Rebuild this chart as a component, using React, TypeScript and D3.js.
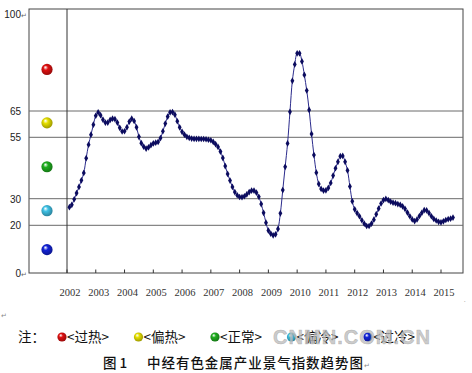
import React from 'react';
import * as d3 from 'd3';

// monthly index, first point Jan 2002
const startYear = 2002;
const yearTicks = d3.range(2002, 2016);
const yTickValues = [0, 20, 30, 55, 65, 100];
const gridValues = [20, 30, 55, 65];

const zoneNames = ['过热', '偏热', '正常', '偏冷', '过冷'];
const zoneColors = ['#e01010', '#e6e000', '#1fae1f', '#3fc2e6', '#1222d6'];
const zoneLevels = [80, 60.5, 43, 25.5, 9.8];

const indexValues = [
  26.8, 27.7, 29.8, 32.3, 34.8, 37.5, 40.5, 46.5, 52.0, 56.0, 59.8, 63.2, // 2002
  64.5, 63.4, 61.7, 60.6, 60.6, 61.6, 62.1, 61.9, 60.6, 58.6, 57.2, 57.3, // 2003
  58.8, 61.0, 62.1, 61.2, 58.8, 55.2, 52.6, 51.2, 50.4, 50.9, 51.8, 52.5, // 2004
  52.8, 53.1, 54.7, 57.3, 60.2, 62.9, 64.5, 64.6, 63.6, 61.1, 58.8, 57.1, // 2005
  56.0, 55.2, 54.8, 54.5, 54.4, 54.4, 54.4, 54.3, 54.3, 54.2, 54.0, 53.8, // 2006
  53.1, 52.2, 51.1, 49.2, 46.6, 43.3, 40.1, 37.4, 34.8, 32.7, 31.4, 30.7, // 2007
  30.6, 31.0, 31.8, 32.7, 33.3, 33.3, 32.5, 30.8, 28.0, 24.7, 21.0, 17.8, // 2008
  16.5, 15.8, 16.2, 18.5, 24.5, 33.5, 43.0, 52.5, 64.7, 75.9, 81.8, 85.8, // 2009
  85.8, 82.9, 78.0, 72.4, 65.4, 56.3, 47.8, 40.6, 36.0, 34.0, 33.3, 33.4, // 2010
  34.4, 36.4, 39.4, 42.4, 45.0, 47.3, 47.4, 45.0, 41.5, 35.0, 29.0, 26.0, // 2011
  24.6, 23.4, 21.9, 20.6, 19.7, 19.7, 20.6, 22.1, 24.2, 26.3, 28.2, 29.5, // 2012
  29.9, 29.5, 28.9, 28.5, 28.3, 28.0, 27.7, 27.1, 26.2, 24.8, 23.4, 22.2, // 2013
  21.6, 22.2, 23.5, 24.7, 25.7, 25.6, 24.6, 23.4, 22.4, 21.8, 21.3, 21.1, // 2014
  21.5, 22.0, 22.3, 22.5, 22.9, // 2015
];

const W = 472;
const H = 373;
const left = 29;
const right = 463;
const top = 9;
const bottom = 273;

const cjk = '"Noto Sans CJK SC", "Noto Sans", sans-serif';

const App = () => {
  const x = d3.scaleLinear().domain([2002, 2015]).range([67, 441]);
  // the original axis is not evenly spaced, so use a piecewise scale
  const y = d3.scaleLinear()
    .domain(yTickValues)
    .range([273, 225.3, 198.7, 137.3, 111, 14]);

  const points = indexValues.map((v, i) => ({ t: startYear + (i + 1) / 12, v }));

  const line = d3.line<{ t: number; v: number }>()
    .x(d => x(d.t))
    .y(d => y(d.v))
    .curve(d3.curveCatmullRom.alpha(0.5));

  const marker = d3.symbol().type(d3.symbolDiamond).size(13)();

  const legendX = d3.scalePoint<string>().domain(zoneNames).range([62, 368]);

  return (
    <svg width={W} height={H} style={{ position: 'absolute', left: 0, top: 0, background: '#fff' }}>
      <defs>
        {zoneColors.map((c, i) => (
          <radialGradient key={i} id={`ball${i}`} cx="45%" cy="45%" r="60%" fx="35%" fy="30%">
            <stop offset="0%" stopColor="#ffffff" stopOpacity={0.85} />
            <stop offset="35%" stopColor={c} />
            <stop offset="100%" stopColor={d3.color(c)!.darker(1.2).toString()} />
          </radialGradient>
        ))}
      </defs>

      {/* frame */}
      <rect x={left} y={top} width={right - left} height={bottom - top} fill="none" stroke="#444" strokeWidth={1} />

      {/* zone lines */}
      {gridValues.map(v => (
        <line key={v} x1={left} x2={right} y1={y(v)} y2={y(v)} stroke="#6a6a6a" strokeWidth={1} />
      ))}

      {/* 2002 divider */}
      <line x1={x(2002)} x2={x(2002)} y1={top} y2={bottom} stroke="#333" strokeWidth={1} />

      {/* x ticks + labels */}
      {yearTicks.map(yr => (
        <g key={yr}>
          <line x1={x(yr)} x2={x(yr)} y1={bottom} y2={bottom - 3.5} stroke="#333" />
          <text x={x(yr) + 3} y={296} textAnchor="middle" fontSize={10.5}
            fontFamily='"Liberation Serif", serif' fill="#333">{yr}</text>
        </g>
      ))}

      {/* y labels */}
      {yTickValues.map(v => (
        <text key={v} x={21} y={y(v) + 4} textAnchor="end" fontSize={10}
          fontFamily='"Liberation Sans", Arial, sans-serif' fill="#222">{v}</text>
      ))}
      <text x={21} y={y(100) + 4} fontSize={7} fill="#666">↵</text>
      <text x={21} y={y(0) + 4} fontSize={7} fill="#666">↵</text>

      {/* zone balls */}
      {zoneLevels.map((v, i) => (
        <circle key={i} cx={47} cy={y(v)} r={5.6} fill={`url(#ball${i})`} />
      ))}

      {/* index line */}
      <path d={line(points) ?? ''} fill="none" stroke="#2b2b8c" strokeWidth={1} />
      {points.map((d, i) => (
        <path key={i} d={marker!} transform={`translate(${x(d.t)},${y(d.v)})`} fill="#0b0b5e" />
      ))}

      <text x={464} y={302} fontSize={6} fill="#888">.</text>
      <text x={1} y={318} fontSize={7} fill="#888">↵</text>

      {/* legend note */}
      <text x={18} y={342} fontSize={13.5} fontFamily={cjk} fill="#111">注：</text>
      {zoneNames.map((n, i) => (
        <g key={n}>
          <circle cx={legendX(n)!} cy={337} r={4.6} fill={`url(#ball${i})`} />
          <text x={legendX(n)! + 5} y={342} fontSize={13.5} fontFamily={cjk} fill="#111">{`<${n}>`}</text>
        </g>
      ))}

      {/* watermark over the last legend items, as in the original */}
      <text x={273} y={344} fontSize={20} fontWeight="bold" textLength={157} lengthAdjust="spacing"
        fontFamily='"Liberation Sans", Arial, sans-serif' fill="#bdbdbd" fillOpacity={0.8}
        stroke="#9a9a9a" strokeWidth={0.5} strokeOpacity={0.6}>CNMN.COM.CN</text>

      {/* caption */}
      <text x={103} y={368} fontSize={13.5} fontFamily={cjk} fontWeight={500} fill="#111">图 1</text>
      <text x={147} y={368} fontSize={13.5} fontFamily={cjk} fontWeight={500} fill="#111"
        textLength={216} lengthAdjust="spacing">中经有色金属产业景气指数趋势图</text>
      <text x={364} y={368} fontSize={7} fill="#888">↵</text>
    </svg>
  );
};

export default App;
